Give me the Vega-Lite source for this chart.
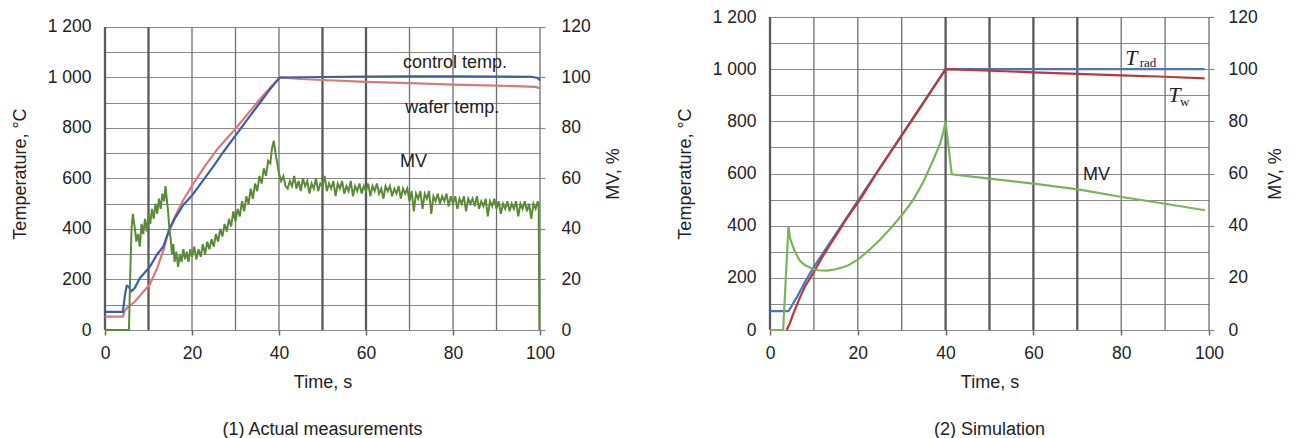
{
 "$schema": "https://vega.github.io/schema/vega-lite/v6.json",
 "background": "white",
 "padding": {"left": 11, "top": 8, "right": 5, "bottom": 0},
 "spacing": 53,
 "config": {
  "font": "Liberation Sans",
  "view": {"stroke": null},
  "axis": {"labelFont": "Liberation Sans", "titleFont": "Liberation Sans", "labelFontSize": 17.5, "titleFontSize": 18, "labelColor": "#222", "titleColor": "#222", "titleFontWeight": "normal", "labelFlush": false},
  "title": {"font": "Liberation Sans", "fontSize": 18, "fontWeight": "normal", "color": "#222"}
 },
 "datasets": {
  "ctl": [
   {"t":0,"value":72},{"t":4.1,"value":72},{"t":4.6,"value":140},{"t":5.0,"value":175},{"t":5.4,"value":172},{"t":6.1,"value":154},{"t":6.8,"value":165},{"t":8,"value":205},{"t":9,"value":225},{"t":10.3,"value":250},{"t":12,"value":300},{"t":13.4,"value":330},{"t":14.2,"value":370},{"t":15,"value":405},{"t":16,"value":440},{"t":18,"value":495},{"t":20.2,"value":537},{"t":22,"value":580},{"t":25,"value":650},{"t":27,"value":700},{"t":29.9,"value":768},{"t":33,"value":840},{"t":35.6,"value":900},{"t":38,"value":955},{"t":40.2,"value":1000},{"t":50,"value":1002},{"t":60,"value":1004},{"t":70,"value":1005},{"t":80,"value":1005},{"t":90,"value":1004},{"t":98,"value":1003},{"t":99.5,"value":998},{"t":100,"value":988}
  ],
  "waf": [
   {"t":0,"value":53},{"t":4.1,"value":53},{"t":4.5,"value":75},{"t":5.2,"value":90},{"t":5.7,"value":95},{"t":7,"value":115},{"t":8.5,"value":145},{"t":10.3,"value":181},{"t":12,"value":245},{"t":13.5,"value":320},{"t":14.6,"value":392},{"t":16.1,"value":450},{"t":18,"value":515},{"t":20.2,"value":577},{"t":23,"value":650},{"t":26,"value":720},{"t":29.9,"value":795},{"t":33,"value":860},{"t":35.6,"value":914},{"t":38,"value":960},{"t":40.2,"value":1000},{"t":45,"value":994},{"t":50,"value":990},{"t":60,"value":983},{"t":70,"value":978},{"t":80,"value":972},{"t":90,"value":968},{"t":99,"value":963},{"t":100,"value":957}
  ],
  "mv1": [
   {"t":0,"mv":0},{"t":5.5,"mv":0},{"t":5.8,"mv":22},{"t":6.1,"mv":40},{"t":6.4,"mv":46},{"t":6.8,"mv":41},{"t":7.2,"mv":35},{"t":7.6,"mv":38},{"t":8,"mv":33},{"t":8.4,"mv":42},{"t":8.8,"mv":38},{"t":9.2,"mv":44},{"t":9.6,"mv":39},{"t":10,"mv":46},{"t":10.4,"mv":42},{"t":10.8,"mv":48},{"t":11.2,"mv":44},{"t":11.6,"mv":50},{"t":12,"mv":46},{"t":12.4,"mv":52},{"t":12.8,"mv":48},{"t":13.2,"mv":54},{"t":13.6,"mv":51},{"t":13.9,"mv":57},{"t":14.2,"mv":52},{"t":14.5,"mv":47},{"t":14.8,"mv":40},{"t":15.1,"mv":36},{"t":15.4,"mv":30},{"t":15.7,"mv":34},{"t":16,"mv":27},{"t":16.4,"mv":31},{"t":16.8,"mv":25},{"t":17.2,"mv":30},{"t":17.6,"mv":27},{"t":18,"mv":32},{"t":18.4,"mv":28},{"t":18.8,"mv":31},{"t":19.2,"mv":27},{"t":19.6,"mv":32},{"t":20,"mv":29},{"t":20.5,"mv":33},{"t":21,"mv":28},{"t":21.5,"mv":32},{"t":22,"mv":29},{"t":22.5,"mv":34},{"t":23,"mv":30},{"t":23.5,"mv":35},{"t":24,"mv":32},{"t":24.5,"mv":36},{"t":25,"mv":33},{"t":25.5,"mv":38},{"t":26,"mv":35},{"t":26.5,"mv":40},{"t":27,"mv":37},{"t":27.5,"mv":42},{"t":28,"mv":39},{"t":28.5,"mv":44},{"t":29,"mv":41},{"t":29.5,"mv":47},{"t":30,"mv":43},{"t":30.5,"mv":48},{"t":31,"mv":45},{"t":31.5,"mv":51},{"t":32,"mv":47},{"t":32.5,"mv":53},{"t":33,"mv":50},{"t":33.5,"mv":56},{"t":34,"mv":52},{"t":34.5,"mv":58},{"t":35,"mv":55},{"t":35.5,"mv":61},{"t":36,"mv":58},{"t":36.5,"mv":64},{"t":37,"mv":61},{"t":37.5,"mv":67},{"t":38,"mv":66},{"t":38.4,"mv":72},{"t":38.8,"mv":75},{"t":39.2,"mv":70},{"t":39.6,"mv":66},{"t":40,"mv":62},{"t":40.5,"mv":59},{"t":41,"mv":61},{"t":41.5,"mv":57},
   {"t":42,"mv":56},{"t":42.5,"mv":59},{"t":43,"mv":57},{"t":43.5,"mv":61},{"t":44,"mv":56},{"t":44.5,"mv":59},{"t":45,"mv":55},{"t":45.5,"mv":60},{"t":46,"mv":57},{"t":46.5,"mv":59},{"t":47,"mv":54},{"t":47.5,"mv":58},{"t":48,"mv":56},{"t":48.5,"mv":60},{"t":49,"mv":55},{"t":49.5,"mv":58},{"t":50,"mv":57},{"t":50.5,"mv":61},{"t":51,"mv":55},{"t":51.5,"mv":58},{"t":52,"mv":56},{"t":52.5,"mv":59},{"t":53,"mv":53},{"t":53.5,"mv":58},{"t":54,"mv":56},{"t":54.5,"mv":59},{"t":55,"mv":54},{"t":55.5,"mv":57},{"t":56,"mv":55},{"t":56.5,"mv":59},{"t":57,"mv":53},{"t":57.5,"mv":57},{"t":58,"mv":55},{"t":58.5,"mv":58},{"t":59,"mv":54},{"t":59.5,"mv":57},{"t":60,"mv":55},{"t":60.5,"mv":58},{"t":61,"mv":53},{"t":61.5,"mv":57},{"t":62,"mv":55},{"t":62.5,"mv":58},{"t":63,"mv":54},{"t":63.5,"mv":56},{"t":64,"mv":52},{"t":64.5,"mv":57},{"t":65,"mv":55},{"t":65.5,"mv":57},{"t":66,"mv":53},{"t":66.5,"mv":56},{"t":67,"mv":54},{"t":67.5,"mv":57},{"t":68,"mv":52},{"t":68.5,"mv":56},{"t":69,"mv":54},{"t":69.5,"mv":56},{"t":70,"mv":51},{"t":70.5,"mv":55},{"t":71,"mv":47},{"t":71.5,"mv":54},{"t":72,"mv":52},{"t":72.5,"mv":55},{"t":73,"mv":48},{"t":73.5,"mv":54},{"t":74,"mv":52},{"t":74.5,"mv":55},{"t":75,"mv":46},{"t":75.5,"mv":53},{"t":76,"mv":51},{"t":76.5,"mv":54},{"t":77,"mv":50},{"t":77.5,"mv":53},{"t":78,"mv":51},{"t":78.5,"mv":54},{"t":79,"mv":49},{"t":79.5,"mv":53},{"t":80,"mv":50},{"t":80.5,"mv":53},{"t":81,"mv":48},{"t":81.5,"mv":52},{"t":82,"mv":50},{"t":82.5,"mv":53},{"t":83,"mv":47},{"t":83.5,"mv":52},{"t":84,"mv":50},{"t":84.5,"mv":52},{"t":85,"mv":49},{"t":85.5,"mv":53},{"t":86,"mv":48},{"t":86.5,"mv":51},{"t":87,"mv":49},{"t":87.5,"mv":52},{"t":88,"mv":45},{"t":88.5,"mv":51},{"t":89,"mv":49},{"t":89.5,"mv":52},{"t":90,"mv":48},{"t":90.5,"mv":51},{"t":91,"mv":46},{"t":91.5,"mv":50},{"t":92,"mv":48},{"t":92.5,"mv":51},{"t":93,"mv":47},{"t":93.5,"mv":50},{"t":94,"mv":48},{"t":94.5,"mv":51},{"t":95,"mv":45},{"t":95.5,"mv":50},{"t":96,"mv":48},{"t":96.5,"mv":51},{"t":97,"mv":47},{"t":97.5,"mv":50},{"t":98,"mv":44},{"t":98.5,"mv":50},{"t":99,"mv":48},{"t":99.5,"mv":51},{"t":99.7,"mv":49},{"t":99.85,"mv":0}
  ],
  "trad": [
   {"t":0,"value":72},{"t":4.2,"value":72},{"t":6,"value":122},{"t":8,"value":185},{"t":10,"value":242},{"t":20,"value":495},{"t":40,"value":1000},{"t":99,"value":1000}
  ],
  "tw": [
   {"t":3.8,"value":0},{"t":4.5,"value":25},{"t":5.3,"value":62},{"t":6.8,"value":124},{"t":8,"value":168},{"t":9.9,"value":220},{"t":12,"value":282},{"t":15,"value":362},{"t":17.5,"value":428},{"t":20.5,"value":500},{"t":25,"value":620},{"t":30,"value":745},{"t":35,"value":872},{"t":40,"value":1000},{"t":50,"value":994},{"t":60,"value":988},{"t":70,"value":982},{"t":80,"value":976},{"t":90,"value":971},{"t":99,"value":965}
  ],
  "mv2": [
   {"t":0,"mv":0},{"t":3.0,"mv":0},{"t":4.2,"mv":39.5},{"t":4.6,"mv":35},{"t":5.3,"mv":31.6},{"t":6,"mv":29},{"t":6.8,"mv":26.5},{"t":8,"mv":24.8},{"t":9.9,"mv":23.3},{"t":11,"mv":22.9},{"t":12.9,"mv":22.8},{"t":15,"mv":23.3},{"t":17.5,"mv":24.5},{"t":20,"mv":27},{"t":22.5,"mv":30.5},{"t":25,"mv":34.5},{"t":27.5,"mv":39},{"t":30,"mv":44},{"t":32.5,"mv":49.5},{"t":35,"mv":57},{"t":37,"mv":64.5},{"t":38.7,"mv":71.2},{"t":39.5,"mv":76},{"t":40,"mv":80},{"t":41.4,"mv":59.7},{"t":50,"mv":58},{"t":60,"mv":56.1},{"t":70.2,"mv":53.9},{"t":80.1,"mv":51},{"t":90,"mv":48.4},{"t":99.1,"mv":45.9}
  ]
 },
 "hconcat": [
  {
   "width": 435, "height": 313,
   "title": {"text": "(1) Actual measurements", "orient": "bottom", "offset": 29},
   "encoding": {
    "x": {"field": "t", "type": "quantitative", "scale": {"domain": [0, 100], "nice": false, "zero": false},
     "axis": {"title": "Time, s", "values": [0,20,40,60,80,100], "grid": false, "domain": false, "ticks": true, "tickSize": 5, "tickColor": "#6a6a6a", "tickWidth": 1.5, "labelPadding": 9, "titlePadding": 12}}
   },
   "layer": [
    {"data": {"values": [{"t":20},{"t":30},{"t":40},{"t":70},{"t":80},{"t":90},{"t":100}]},
     "mark": {"type": "rule", "color": "#707070", "strokeWidth": 1.3},
     "encoding": {"y": {"datum": 0, "type": "quantitative", "scale": {"domain": [0, 1239.6], "nice": false, "zero": false}, "axis": null}, "y2": {"datum": 1200}}},
    {"data": {"values": [{"t":0},{"t":10},{"t":50},{"t":60}]},
     "mark": {"type": "rule", "color": "#5a5a5a", "strokeWidth": 2.3},
     "encoding": {"y": {"datum": 0, "type": "quantitative", "scale": {"domain": [0, 1239.6], "nice": false, "zero": false}, "axis": null}, "y2": {"datum": 1200}}},
    {"data": {"name": "waf"}, "mark": {"type": "line", "color": "#d67a7b", "strokeWidth": 2.2},
     "encoding": {"y": {"field": "value", "type": "quantitative", "scale": {"domain": [0, 1239.6], "nice": false, "zero": false},
       "axis": {"title": "Temperature, °C", "values": [0,100,200,300,400,500,600,700,800,900,1000,1100,1200], "labelExpr": "datum.value % 200 === 0 ? replace(format(datum.value, ','), ',', ' ') : ''", "labelOverlap": false, "grid": true, "gridColor": "#8a8a8a", "gridWidth": 1.2, "ticks": false, "domain": false, "labelPadding": 14, "titlePadding": 18}}}},
    {"data": {"name": "ctl"}, "mark": {"type": "line", "color": "#3d5fa6", "strokeWidth": 2.2},
     "encoding": {"y": {"field": "value", "type": "quantitative", "scale": {"domain": [0, 1239.6], "nice": false, "zero": false}, "axis": null}}},
    {"data": {"values": [{"t":68.5,"value":1057,"label":"control temp."},{"t":69,"value":879,"label":"wafer temp."},{"t":67.8,"value":665,"label":"MV"}]},
     "mark": {"type": "text", "align": "left", "baseline": "middle", "fontSize": 18, "color": "#222", "font": "Liberation Sans"},
     "encoding": {"y": {"field": "value", "type": "quantitative", "scale": {"domain": [0, 1239.6], "nice": false, "zero": false}, "axis": null}, "text": {"field": "label"}}},
    {"data": {"name": "mv1"},
     "mark": {"type": "line", "color": "#5c8a3a", "strokeWidth": 2},
     "encoding": {
      "y": {"field": "mv", "type": "quantitative", "scale": {"domain": [0, 123.96], "nice": false, "zero": false},
       "axis": {"orient": "right", "title": "MV, %", "titleAngle": 270, "values": [0,20,40,60,80,100,120], "grid": false, "domain": false, "ticks": true, "tickSize": 5, "tickColor": "#8a8a8a", "tickWidth": 1.2, "labelPadding": 16, "titlePadding": 32}}
     }
    }
   ],
   "resolve": {"scale": {"y": "independent"}, "axis": {"y": "independent"}}
  },
  {
   "width": 439, "height": 313,
   "title": {"text": "(2) Simulation", "orient": "bottom", "offset": 29},
   "encoding": {
    "x": {"field": "t", "type": "quantitative", "scale": {"domain": [0, 100], "nice": false, "zero": false},
     "axis": {"title": "Time, s", "values": [0,20,40,60,80,100], "grid": false, "domain": false, "ticks": true, "tickSize": 5, "tickColor": "#6a6a6a", "tickWidth": 1.5, "labelPadding": 9, "titlePadding": 12}}
   },
   "layer": [
    {"data": {"values": [{"t":10},{"t":20},{"t":30},{"t":80},{"t":90},{"t":100}]},
     "mark": {"type": "rule", "color": "#707070", "strokeWidth": 1.3},
     "encoding": {"y": {"datum": 0, "type": "quantitative", "scale": {"domain": [0, 1200], "nice": false, "zero": false}, "axis": null}, "y2": {"datum": 1200}}},
    {"data": {"values": [{"t":0},{"t":40},{"t":50},{"t":60},{"t":70}]},
     "mark": {"type": "rule", "color": "#5a5a5a", "strokeWidth": 2.3},
     "encoding": {"y": {"datum": 0, "type": "quantitative", "scale": {"domain": [0, 1200], "nice": false, "zero": false}, "axis": null}, "y2": {"datum": 1200}}},
    {"data": {"name": "trad"}, "mark": {"type": "line", "color": "#4e74b5", "strokeWidth": 2.2},
     "encoding": {"y": {"field": "value", "type": "quantitative", "scale": {"domain": [0, 1200], "nice": false, "zero": false},
       "axis": {"title": "Temperature, °C", "values": [0,100,200,300,400,500,600,700,800,900,1000,1100,1200], "labelExpr": "datum.value % 200 === 0 ? replace(format(datum.value, ','), ',', ' ') : ''", "labelOverlap": false, "grid": true, "gridColor": "#8a8a8a", "gridWidth": 1.2, "ticks": false, "domain": false, "labelPadding": 14, "titlePadding": 18}}}},
    {"data": {"name": "tw"}, "mark": {"type": "line", "color": "#b53a39", "strokeWidth": 2.2},
     "encoding": {"y": {"field": "value", "type": "quantitative", "scale": {"domain": [0, 1200], "nice": false, "zero": false}, "axis": null}}},
    {"data": {"values": [{"t":71.3,"value":594,"label":"MV"}]},
     "mark": {"type": "text", "align": "left", "baseline": "middle", "fontSize": 18, "color": "#222", "font": "Liberation Sans"},
     "encoding": {"y": {"field": "value", "type": "quantitative", "scale": {"domain": [0, 1200], "nice": false, "zero": false}, "axis": null}, "text": {"field": "label"}}},
    {"data": {"values": [{"t":80.9,"value":1043,"label":"T"},{"t":90.7,"value":901,"label":"T"}]},
     "mark": {"type": "text", "align": "left", "baseline": "middle", "fontSize": 22, "fontStyle": "italic", "color": "#222", "font": "Liberation Serif"},
     "encoding": {"y": {"field": "value", "type": "quantitative", "scale": {"domain": [0, 1200], "nice": false, "zero": false}, "axis": null}, "text": {"field": "label"}}},
    {"data": {"values": [{"t":84.2,"value":1022,"label":"rad"},{"t":93.4,"value":874,"label":"w"}]},
     "mark": {"type": "text", "align": "left", "baseline": "middle", "fontSize": 13, "color": "#222", "font": "Liberation Serif"},
     "encoding": {"y": {"field": "value", "type": "quantitative", "scale": {"domain": [0, 1200], "nice": false, "zero": false}, "axis": null}, "text": {"field": "label"}}},
    {"data": {"name": "mv2"},
     "mark": {"type": "line", "color": "#7db25f", "strokeWidth": 2.2},
     "encoding": {
      "y": {"field": "mv", "type": "quantitative", "scale": {"domain": [0, 120], "nice": false, "zero": false},
       "axis": {"orient": "right", "title": "MV, %", "titleAngle": 270, "values": [0,20,40,60,80,100,120], "grid": false, "domain": false, "ticks": true, "tickSize": 5, "tickColor": "#8a8a8a", "tickWidth": 1.2, "labelPadding": 14, "titlePadding": 27}}
     }
    }
   ],
   "resolve": {"scale": {"y": "independent"}, "axis": {"y": "independent"}}
  }
 ]
}
